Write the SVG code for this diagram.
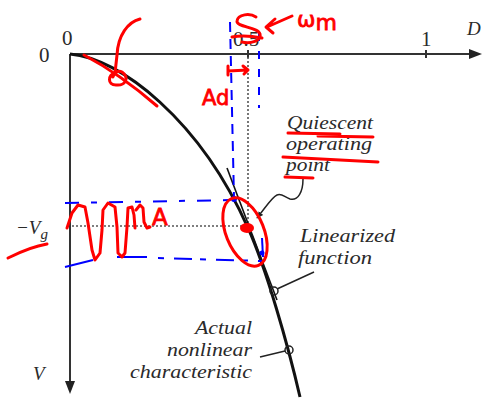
<svg xmlns="http://www.w3.org/2000/svg" width="489" height="400" viewBox="0 0 489 400">
<defs>
<style>
.lbl{font-family:"Liberation Serif","Times New Roman",serif;font-style:italic;font-size:19px;fill:#2a2a2a}
.num{font-family:"Liberation Serif","Times New Roman",serif;font-size:21px;fill:#2a2a2a}
.ax{stroke:#333;stroke-width:2;fill:none}
.dot{stroke:#555;stroke-width:1.6;stroke-dasharray:2 2;fill:none}
.red{stroke:#f00;stroke-width:3;fill:none;stroke-linecap:round;stroke-linejoin:round}
.blue{stroke:#00f;stroke-width:2;fill:none}
.hw{font-family:"DejaVu Sans","Liberation Sans",sans-serif;fill:#f00;stroke:#f00;stroke-width:0.8}
.lead{stroke:#222;stroke-width:1.5;fill:none}
</style>
<marker id="ah" viewBox="0 0 10 10" refX="9" refY="5" markerWidth="7" markerHeight="7" orient="auto" markerUnits="userSpaceOnUse">
<path d="M0 1 L10 5 L0 9 Z" fill="#222"/>
</marker>
</defs>
<rect width="489" height="400" fill="#fff"/>

<g id="axes">
<line class="ax" x1="70" y1="54" x2="470" y2="54"/>
<path d="M482 54 L469 49 L469 59 Z" fill="#222"/>
<line class="ax" x1="70" y1="54" x2="70" y2="381"/>
<path d="M70 394 L65 381 L75 381 Z" fill="#222"/>
<line class="ax" x1="426" y1="50" x2="426" y2="58" stroke-width="1.5"/>
<line class="ax" x1="248" y1="50" x2="248" y2="58" stroke-width="1.5"/>
<text class="num" x="39" y="62">0</text>
<text class="num" x="62" y="45">0</text>
<text class="num" x="233" y="46">0.5</text>
<text class="num" x="421" y="46">1</text>
<text class="lbl" x="467" y="35" font-size="21">D</text>
<text class="lbl" x="33" y="380" font-size="21">V</text>
<text class="lbl" x="16" y="234" font-size="21">−V<tspan font-size="15" dy="5">g</tspan></text>
</g>

<g id="guides">
<line class="dot" x1="248" y1="57" x2="248" y2="226"/>
<line class="dot" x1="72" y1="226" x2="246" y2="226"/>
</g>

<g id="curves">
<path id="actual" d="M70 54 C120 58 200 120 248 228 C266 268 288 345 300 397" stroke="#111" stroke-width="3" fill="none"/>
<line id="linearized" x1="227" y1="168" x2="277" y2="300" stroke="#111" stroke-width="1.6"/>
</g>

<g id="q-label">
<text class="lbl" x="287" y="129" textLength="86" lengthAdjust="spacingAndGlyphs">Quiescent</text>
<text class="lbl" x="286" y="150" textLength="86" lengthAdjust="spacingAndGlyphs">operating</text>
<text class="lbl" x="286" y="171" textLength="44" lengthAdjust="spacingAndGlyphs">point</text>
</g>
<g id="lin-label">
<text class="lbl" x="300" y="242" textLength="95" lengthAdjust="spacingAndGlyphs">Linearized</text>
<text class="lbl" x="298" y="264" textLength="74" lengthAdjust="spacingAndGlyphs">function</text>
</g>
<g id="act-label">
<text class="lbl" x="195" y="334" textLength="57" lengthAdjust="spacingAndGlyphs">Actual</text>
<text class="lbl" x="167" y="356" textLength="85" lengthAdjust="spacingAndGlyphs">nonlinear</text>
<text class="lbl" x="130" y="378" textLength="122" lengthAdjust="spacingAndGlyphs">characteristic</text>
</g>

<g id="connectors">
<path class="lead" d="M303 179 C303 192 298 201 290 199 C284 197 282 193 277 195 C272 197 266 207 257 218" marker-end="url(#ah)"/>
<circle cx="274" cy="291" r="4" fill="none" stroke="#222" stroke-width="1.5"/>
<line class="lead" x1="277" y1="289" x2="314" y2="272"/>
<circle cx="289" cy="350" r="4" fill="none" stroke="#222" stroke-width="1.5"/>
<line class="lead" x1="285" y1="351" x2="260" y2="357"/>
</g>

<g id="blue-annot">
<line class="blue" x1="230" y1="22" x2="234" y2="198" stroke-dasharray="10 7"/>
<line class="blue" x1="259" y1="33" x2="259" y2="108" stroke-dasharray="8 10"/>
<path class="blue" d="M65 203 L234 200" stroke-dasharray="14 12 6 12"/>
<path class="blue" d="M65 267 L93 260 M117 257 L147 257" />
<path class="blue" d="M158 258 L262 261" stroke-dasharray="6 10 18 8"/>
<line class="blue" x1="262" y1="238" x2="263" y2="257"/>
<circle cx="234" cy="199" r="3" fill="#00f"/>
<circle cx="262" cy="253" r="2.5" fill="#00f"/>
</g>

<g id="red-annot">
<path class="red" d="M84 55 Q120 74 157 106" stroke-width="4"/>
<path class="red" d="M140 19 C128 22 118 35 117 55 L115 73 C108 75 107 85 116 85 C125 86 130 78 122 72 C118 70 114 73 113 77"/>
<path class="red" d="M256 17 C250 13 238 14 237 21 C236 27 258 27 260 34 C262 41 250 44 242 42"/>
<path class="red" d="M232 37 C242 35 252 36 262 38"/>
<path class="red" d="M292 16 L267 27 M275 19 L266 27 L273 33"/>
<text class="hw" x="297" y="27" font-size="22">ω<tspan dy="3">m</tspan></text>
<text class="hw" x="202" y="105" font-size="21">Ad</text>
<path class="red" d="M228 66 L228 75 M228 71 L248 70 M243 66 L248 70 L244 74"/>
<path class="red" d="M288 133 L340 134 M318 136 L373 137"/>
<path class="red" d="M283 157 L378 162"/>
<path class="red" d="M285 177 L313 178"/>
<ellipse class="red" cx="245" cy="232" rx="19" ry="36" transform="rotate(-22 245 232)"/>
<ellipse cx="247" cy="228" rx="7" ry="5" fill="#f00"/>
<path class="red" d="M8 258 C20 252 35 246 47 244"/>
<path class="red" d="M67 228 L72 213 L78 205 L85 207 L88 223 L92 250 L95 260 L100 253 L102 230 L103 210 L108 203 L115 207 L117 227 L118 253 L122 257 L125 253 L127 227 L128 208 L132 207 L134 215 L135 228 M136 210 L140 205 L143 208 L144 222 L147 228 L150 227"/>
<text class="hw" x="152" y="225" font-size="23">A</text>
</g>
</svg>
